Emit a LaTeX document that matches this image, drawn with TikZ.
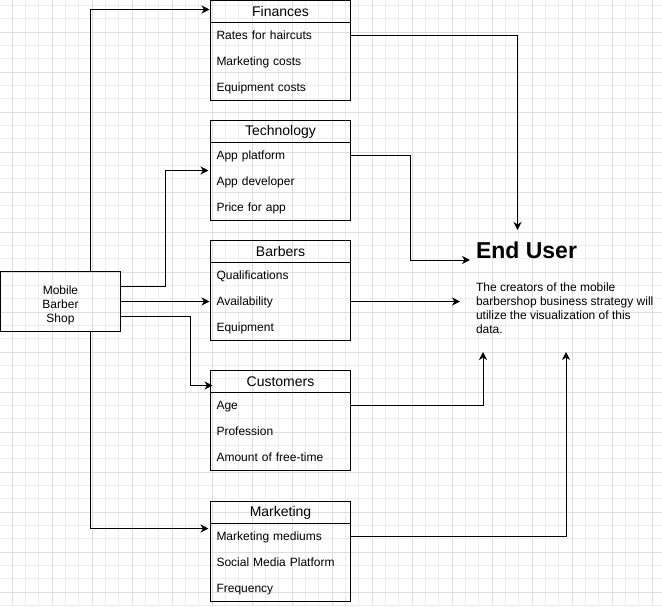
\documentclass[tikz,border=0pt]{standalone}
\usepackage{fontspec}
\setmainfont{Liberation Sans}
\usetikzlibrary{arrows.meta,calc}

\begin{document}
\begin{tikzpicture}[x=1pt,y=-1pt,line width=1pt,
  head/.style={draw,anchor=north west,outer sep=0pt,minimum width=140pt,minimum height=22pt,inner sep=0pt,font=\fontsize{14}{16}\selectfont},
  body/.style={draw,anchor=north west,outer sep=0pt,minimum width=140pt,minimum height=78pt,inner sep=0pt},
  item/.style={anchor=north west,outer sep=0pt,minimum height=26pt,text width=128pt,text height=9.2pt,text depth=1.6pt,inner xsep=6pt,inner ysep=0pt,align=left,font=\fontsize{12}{14}\selectfont},
  arr/.style={-{Stealth[length=8pt,width=8pt,inset=2.5pt]}},
  minorgrid/.style={line width=0.6pt,draw=black!7},
  majorgrid/.style={line width=0.8pt,draw=black!13}]

\useasboundingbox (0,0) rectangle (662,606);
\fill[white] (0,0) rectangle (662,606);

% grid
\foreach \k in {0,...,48}
  \draw[minorgrid] ({12+\k*40/3},0) -- ({12+\k*40/3},606);
\foreach \k in {0,...,45}
  \draw[minorgrid] (0,{16/3+\k*40/3}) -- (662,{16/3+\k*40/3});
\foreach \k in {0,...,16}
  \draw[majorgrid] ({12+\k*40},0) -- ({12+\k*40},606);
\foreach \k in {0,...,14}
  \draw[majorgrid] (0,{32+\k*40}) -- (662,{32+\k*40});


% Finances
\node[head] (FinHead) at (210.5,0.5) {Finances};
\node[body] (FinBody) at (FinHead.south west) {};
\node[item] (FinRates) at (FinHead.south west) {Rates for haircuts};
\node[item] (FinMark) at (FinRates.south west) {Marketing costs};
\node[item] (FinEquip) at (FinMark.south west) {Equipment costs};

% Technology
\node[head] (TechHead) at (210.5,120.5) {Technology};
\node[body] (TechBody) at (TechHead.south west) {};
\node[item] (TechPlat) at (TechHead.south west) {App platform};
\node[item] (TechDev) at (TechPlat.south west) {App developer};
\node[item] (TechPrice) at (TechDev.south west) {Price for app};

% Barbers
\node[head] (BarHead) at (210.5,240.5) {Barbers};
\node[body] (BarBody) at (BarHead.south west) {};
\node[item] (BarQual) at (BarHead.south west) {Qualifications};
\node[item] (BarAvail) at (BarQual.south west) {Availability};
\node[item] (BarEquip) at (BarAvail.south west) {Equipment};

% Customers
\node[head] (CusHead) at (210.5,370.5) {Customers};
\node[body] (CusBody) at (CusHead.south west) {};
\node[item] (CusAge) at (CusHead.south west) {Age};
\node[item] (CusProf) at (CusAge.south west) {Profession};
\node[item] (CusFree) at (CusProf.south west) {Amount of free-time};

% Marketing
\node[head] (MarHead) at (210.5,501.5) {Marketing};
\node[body] (MarBody) at (MarHead.south west) {};
\node[item] (MarMed) at (MarHead.south west) {Marketing mediums};
\node[item] (MarSocial) at (MarMed.south west) {Social Media Platform};
\node[item] (MarFreq) at (MarSocial.south west) {Frequency};

\node[draw,outer sep=0pt,minimum width=120pt,minimum height=60pt,align=center,font=\fontsize{12}{14}\selectfont] (Shop) at (60.5,301.5) {\rule{0pt}{16.5pt}Mobile\\Barber\\Shop};

% end user
\node[anchor=base west,inner sep=0pt,font=\bfseries\fontsize{23}{27}\selectfont] (EndTitle) at (475.5,258.3) {End User};
\node[anchor=north west,inner sep=0pt,align=left,font=\fontsize{12}{14}\selectfont] (EndText) at (475.5,282) {The creators of the mobile\\barbershop business strategy will\\utilize the visualization of this\\data.};

\coordinate (ToTop) at (517.5,230);
\coordinate (ToTitle) at (470,260);
\coordinate (ToText) at (460,301.5);
\coordinate (ToLeft) at (483,352);
\coordinate (ToRight) at (566,352);


\draw[arr,shorten >=1pt] ([xshift=30pt]Shop.north) |- ([yshift=2pt]FinHead.west);
\draw[arr,shorten >=2pt] ([yshift=15pt]Shop.east) -- ++(45,0) |- ($(TechHead.north west)!.5!(TechBody.south west)$);
\draw[arr,shorten >=1pt] (Shop.east) -- (BarAvail.west);
\draw[arr,shorten >=-2pt] ([yshift=-15pt]Shop.east) -| ([xshift=-20pt,yshift=-4pt]CusHead.west) -- ([yshift=-4pt]CusHead.west);
\draw[arr,shorten >=2pt] ([xshift=30pt]Shop.south) |- ([yshift=-16pt]MarHead.west);

\draw[arr] (FinRates.east) -| (ToTop);
\draw[arr] (TechPlat.east) -- ++(60,0) |- (ToTitle);
\draw[arr] (BarAvail.east) -- (ToText);
\draw[arr] (CusAge.east) -| (ToLeft);
\draw[arr] (MarMed.east) -| (ToRight);

\end{tikzpicture}
\end{document}
